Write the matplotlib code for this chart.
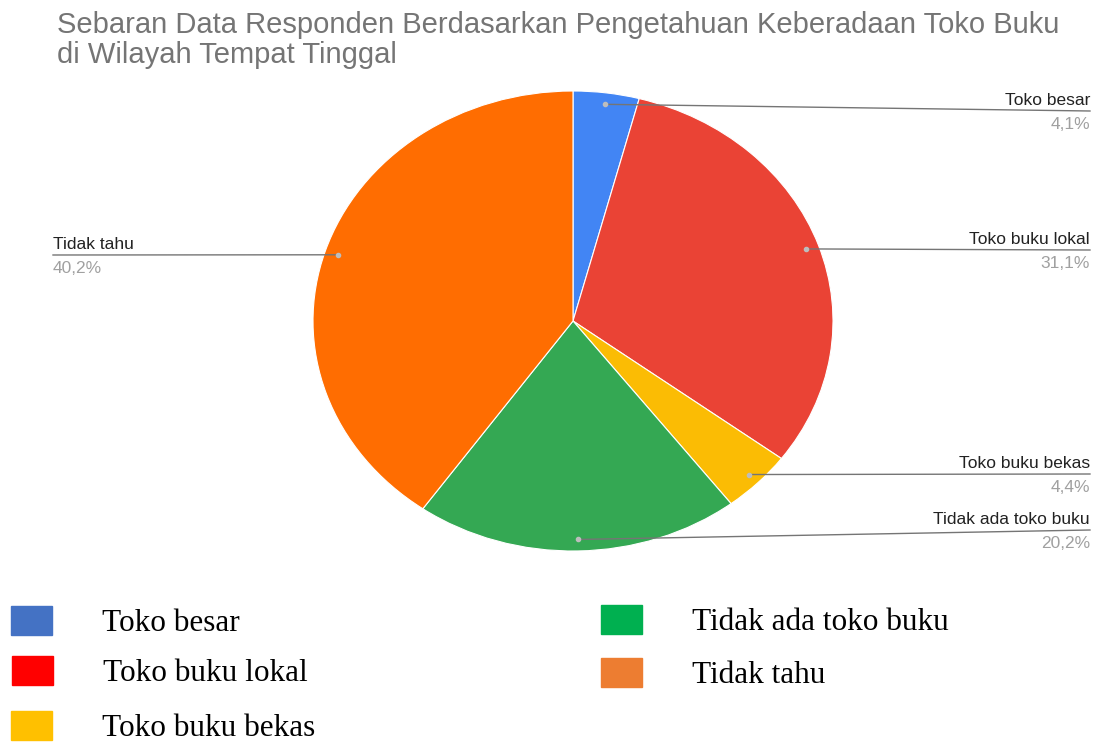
import numpy as np
import matplotlib.pyplot as plt
from matplotlib.patches import Rectangle

# data
labels = ['Toko besar', 'Toko buku lokal', 'Toko buku bekas', 'Tidak ada toko buku', 'Tidak tahu']
values = [4.1, 31.1, 4.4, 20.2, 40.2]
pie_colors = ['#4285F4', '#EA4335', '#FBBC04', '#34A853', '#FF6D01']
legend_colors = ['#4472C4', '#FF0000', '#FFC000', '#00B050', '#ED7D31']
title_lines = ['Sebaran Data Responden Berdasarkan Pengetahuan Keberadaan Toko Buku',
               'di Wilayah Tempat Tinggal']

W, H = 1097, 744
fig = plt.figure(figsize=(W / 100, H / 100), dpi=100)

def fx(px):
    return px / W

def fy(py):
    return 1 - py / H

# pie is drawn as an ellipse: 520 px wide, 460 px tall, centre at (573, 321)
cx, cy = 573.0, 321.0
sx, sy = 260.0, 230.0
ax = fig.add_axes([fx(313), fy(551), fx(520), 460 / H])
ax.pie(values, colors=pie_colors, startangle=90, counterclock=False, radius=1,
       wedgeprops=dict(edgecolor='white', linewidth=0.8))
ax.set_aspect('auto')
ax.set_xlim(-1, 1)
ax.set_ylim(-1, 1)
ax.axis('off')

# callout label anchors (pixel y of the line end), label side
label_y = [111, 250, 474, 530, 255]
cum = np.cumsum([0] + values[:-1])
for i, (lab, v) in enumerate(zip(labels, values)):
    mid = np.deg2rad(90 - (cum[i] + v / 2) * 3.6)
    x0 = 0.95 * np.cos(mid)
    y0 = 0.95 * np.sin(mid)
    y1 = (cy - label_y[i]) / sy
    pct = ('%.1f' % v).replace('.', ',') + '%'
    if x0 >= 0:
        x1 = (1090 - cx) / sx
        ha = 'right'
    else:
        x1 = (53 - cx) / sx
        ha = 'left'
    ax.plot([x0, x1], [y0, y1], color='#757575', lw=1, clip_on=False)
    ax.plot([x0], [y0], 'o', color='#bdbdbd', ms=3, clip_on=False)
    ax.annotate(lab, (x1, y1), xytext=(0, 4), textcoords='offset points',
                ha=ha, va='baseline', fontsize=12.5, color='#222222',
                family='Liberation Sans', annotation_clip=False)
    ax.annotate(pct, (x1, y1), xytext=(0, -4), textcoords='offset points',
                ha=ha, va='top', fontsize=12.5, color='#a0a0a0',
                family='Liberation Sans', annotation_clip=False)

fig.text(fx(57), fy(33), title_lines[0], ha='left', va='baseline', fontsize=21,
         color='#757575', family='Liberation Sans')
fig.text(fx(57), fy(63), title_lines[1], ha='left', va='baseline', fontsize=21,
         color='#757575', family='Liberation Sans')

# legend drawn by hand
leg_x = [11, 12, 11, 601, 601]
leg_y = [606, 656, 711, 605, 658]
for i, lab in enumerate(labels):
    fig.patches.append(Rectangle((fx(leg_x[i]), fy(leg_y[i] + 29)), fx(41), 29 / H,
                                 transform=fig.transFigure, color=legend_colors[i]))
    fig.text(fx(leg_x[i] + 91), fy(leg_y[i] + 25), lab, ha='left', va='baseline',
             fontsize=22.5, family='Liberation Serif', color='black')

fig.savefig('out.png', dpi=100)
